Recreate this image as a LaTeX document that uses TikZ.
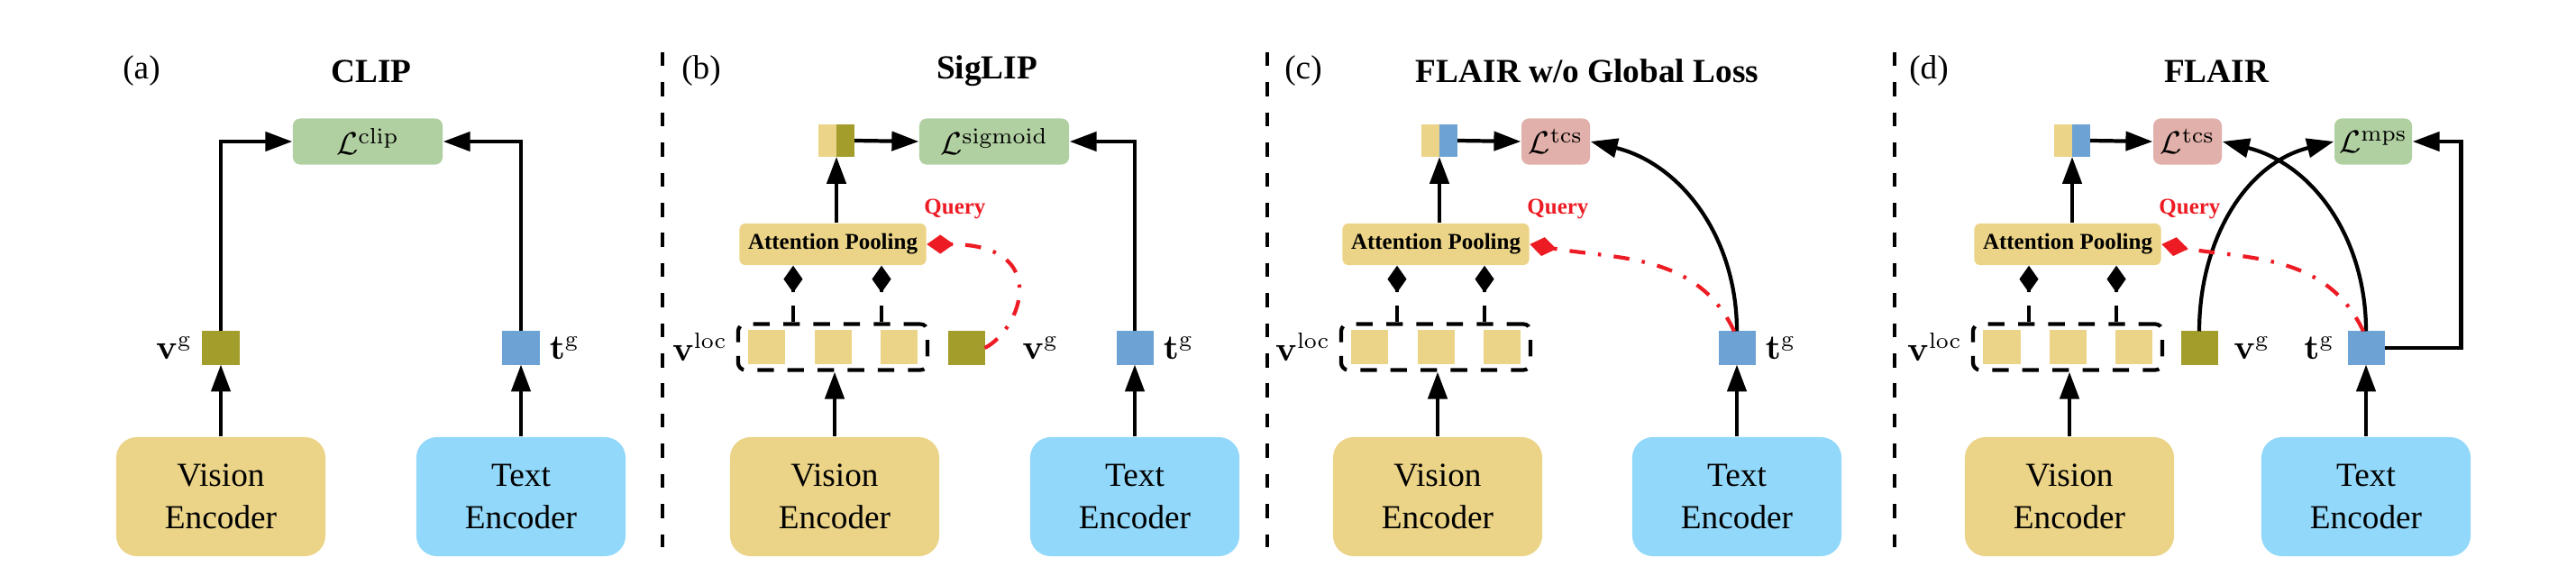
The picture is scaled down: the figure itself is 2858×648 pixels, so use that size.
\documentclass[tikz,border=0pt]{standalone}
\usepackage[no-math]{fontspec}
\setmainfont{Liberation Serif}
\usepackage{amsmath,amssymb}
\usepackage{xcolor}
\usepackage{tikz}
\usetikzlibrary{arrows.meta,positioning}

\definecolor{visyellow}{RGB}{235,212,135}
\definecolor{volive}{RGB}{163,157,43}
\definecolor{tblue}{RGB}{108,163,212}
\definecolor{txtblue}{RGB}{146,216,250}
\definecolor{lossgreen}{RGB}{176,208,161}
\definecolor{losspink}{RGB}{225,176,170}
\definecolor{qred}{RGB}{237,28,36}

\begin{document}
\begin{tikzpicture}[x=0.01cm, y=0.01cm,
  enc/.style={rectangle, rounded corners=6.5pt, minimum width=2.32cm, minimum height=1.32cm,
    align=center, inner sep=0pt, font=\fontsize{10.6}{13.4}\selectfont},
  loss/.style={rectangle, rounded corners=2.3pt, minimum height=0.51cm, inner sep=0pt,
    font=\fontsize{10}{12}\selectfont},
  pool/.style={rectangle, fill=visyellow, rounded corners=1.8pt, minimum width=2.07cm,
    minimum height=0.46cm, inner sep=0pt, font=\fontsize{7.1}{8.5}\selectfont\bfseries},
  feat/.style={rectangle, minimum width=0.41cm, minimum height=0.37cm, inner sep=0pt, outer sep=0pt},
  halfsq/.style={rectangle, minimum width=0.2cm, minimum height=0.36cm, inner sep=0pt, outer sep=0pt},
  grp/.style={rectangle, draw, line width=1.2pt, dash pattern=on 5.2pt off 4.3pt,
    rounded corners=2.3pt, minimum width=2.1cm, minimum height=0.51cm},
  lbl/.style={inner sep=0pt, font=\fontsize{10.6}{12}\selectfont},
  ttl/.style={font=\fontsize{10.6}{12}\selectfont\bfseries},
  plabel/.style={font=\fontsize{10.6}{12}\selectfont},
  qlbl/.style={text=qred, inner sep=0pt, font=\fontsize{7.1}{8.5}\selectfont\bfseries},
  arr/.style={-{Triangle[length=8.5pt, width=6pt]}, line width=1.2pt},
  link/.style={-{Diamond[length=8.5pt, width=6pt]}, line width=1.2pt, dash pattern=on 5.2pt off 4.3pt},
  qry/.style={-{Diamond[length=8.5pt, width=6pt]}, line width=1.2pt, color=qred,
    dash pattern=on 5pt off 4pt on 1pt off 4pt},
  divider/.style={line width=1.3pt, dash pattern=on 4.4pt off 5.1pt},
]
  \useasboundingbox (0,0) rectangle (2858,648);

  % panel dividers
  \draw[divider] (735,590) -- (735,41);
  \draw[divider] (1406,590) -- (1406,41);
  \draw[divider] (2102,590) -- (2102,41);

  % (a) CLIP
  \node[plabel] (taga) at (157,569) {(a)};
  \node[ttl] (ttla) at (412,569) {CLIP};
  \node[loss, fill=lossgreen, minimum width=1.66cm] (lclip) at (408,491) {$\mathcal{L}^{\mathrm{clip}}$};
  \node[enc, fill=visyellow] (vea) at (245,97) {Vision\\Encoder};
  \node[enc, fill=txtblue] (tea) at (578,97) {Text\\Encoder};
  \node[feat, fill=volive] (vga) at (245,262) {};
  \node[feat, fill=tblue] (tga) at (578,262) {};
  \node[lbl, left=3pt of vga] {$\mathbf{v}^{\mathrm{g}}$};
  \node[lbl, right=3pt of tga] {$\mathbf{t}^{\mathrm{g}}$};

  \draw[arr] (vea) -- (vga);
  \draw[arr] (tea) -- (tga);
  \draw[arr] (vga.north) |- (lclip.west);
  \draw[arr] (tga.north) |- (lclip.east);

  % (b) SigLIP
  \node[plabel] (tagb) at (778,569) {(b)};
  \node[ttl] (ttlb) at (1095,569) {SigLIP};
  \node[enc, fill=visyellow] (veb) at (926,97) {Vision\\Encoder};
  \node[enc, fill=txtblue] (teb) at (1259,97) {Text\\Encoder};
  \node[grp] (grpb) at (924,263) {};
  \node[feat, fill=visyellow] (lb2) at (grpb) {};
  \node[feat, fill=visyellow, left=0.32cm of lb2] (lb1) {};
  \node[feat, fill=visyellow, right=0.32cm of lb2] (lb3) {};
  \node[lbl, left=2.6pt of grpb] {$\mathbf{v}^{\mathrm{loc}}$};
  \node[pool] (apb) at (924,377) {Attention Pooling};
  \node[qlbl, above right=1pt and -1pt of apb.north east] {Query};
  \node[halfsq, fill=visyellow] (cb1) at (918,492) {};
  \node[halfsq, fill=volive, right=0pt of cb1] (cb2) {};
  \node[loss, fill=lossgreen, minimum width=1.66cm] (lsig) at (1103,491) {$\mathcal{L}^{\mathrm{sigmoid}}$};
  \node[feat, fill=volive] (vgb) at (1072,262) {};
  \node[lbl, right=0.41cm of vgb] {$\mathbf{v}^{\mathrm{g}}$};
  \node[feat, fill=tblue] (tgb) at (1259,262) {};
  \node[lbl, right=3pt of tgb] {$\mathbf{t}^{\mathrm{g}}$};

  \draw[arr] (veb.north) -- (veb.north |- grpb.south);
  \draw[link] ([xshift=-0.44cm]grpb.north) -- ([xshift=-0.44cm]grpb.north |- apb.south);
  \draw[link] ([xshift=0.54cm]grpb.north) -- ([xshift=0.54cm]grpb.north |- apb.south);
  \draw[arr] (cb1.south east |- apb.north) -- (cb1.south east);
  \draw[arr] (cb2.east) -- (lsig.west);
  \draw[arr] (teb) -- (tgb);
  \draw[arr] (tgb.north) |- (lsig.east);
  \draw[qry] (vgb.east) .. controls +(40,20) and +(140,0) .. (apb.east);

  % (c) FLAIR w/o Global Loss
  \node[plabel] (tagc) at (1446,569) {(c)};
  \node[ttl] (ttlc) at (1761,569) {FLAIR w/o Global Loss};
  \node[enc, fill=visyellow] (vec) at (1595,97) {Vision\\Encoder};
  \node[enc, fill=txtblue] (tec) at (1927,97) {Text\\Encoder};
  \node[grp] (grpc) at (1593,263) {};
  \node[feat, fill=visyellow] (lc2) at (grpc) {};
  \node[feat, fill=visyellow, left=0.32cm of lc2] (lc1) {};
  \node[feat, fill=visyellow, right=0.32cm of lc2] (lc3) {};
  \node[lbl, left=2.6pt of grpc] {$\mathbf{v}^{\mathrm{loc}}$};
  \node[pool] (apc) at (1593,377) {Attention Pooling};
  \node[qlbl, above right=1pt and -1pt of apc.north east] {Query};
  \node[halfsq, fill=visyellow] (cc1) at (1587,492) {};
  \node[halfsq, fill=tblue, right=0pt of cc1] (cc2) {};
  \node[loss, fill=losspink, minimum width=0.76cm] (ltcsc) at (1726,491) {$\mathcal{L}^{\mathrm{tcs}}$};
  \node[feat, fill=tblue] (tgc) at (1927,262) {};
  \node[lbl, right=3pt of tgc] {$\mathbf{t}^{\mathrm{g}}$};

  \draw[arr] (vec.north) -- (vec.north |- grpc.south);
  \draw[link] ([xshift=-0.43cm]grpc.north) -- ([xshift=-0.43cm]grpc.north |- apc.south);
  \draw[link] ([xshift=0.54cm]grpc.north) -- ([xshift=0.54cm]grpc.north |- apc.south);
  \draw[arr] (cc1.south east |- apc.north) -- (cc1.south east);
  \draw[arr] (cc2.east) -- (ltcsc.west);
  \draw[arr] (tec) -- (tgc);
  \draw[arr] (tgc.north) to[out=90, in=-14] (ltcsc.east);
  \draw[qry] ([xshift=-0.03cm]tgc.north) to[out=115, in=-10] (apc.east);

  % (d) FLAIR
  \node[plabel] (tagd) at (2140,569) {(d)};
  \node[ttl] (ttld) at (2459,569) {FLAIR};
  \node[enc, fill=visyellow] (ved) at (2296,97) {Vision\\Encoder};
  \node[enc, fill=txtblue] (ted) at (2625,97) {Text\\Encoder};
  \node[grp] (grpd) at (2294,263) {};
  \node[feat, fill=visyellow] (ld2) at (grpd) {};
  \node[feat, fill=visyellow, left=0.32cm of ld2] (ld1) {};
  \node[feat, fill=visyellow, right=0.32cm of ld2] (ld3) {};
  \node[lbl, left=2.6pt of grpd] {$\mathbf{v}^{\mathrm{loc}}$};
  \node[pool] (apd) at (2294,377) {Attention Pooling};
  \node[qlbl, above right=1pt and -1pt of apd.north east] {Query};
  \node[halfsq, fill=visyellow] (cd1) at (2289,492) {};
  \node[halfsq, fill=tblue, right=0pt of cd1] (cd2) {};
  \node[loss, fill=losspink, minimum width=0.76cm] (ltcsd) at (2427,491) {$\mathcal{L}^{\mathrm{tcs}}$};
  \node[loss, fill=lossgreen, minimum width=0.86cm] (lmps) at (2633,491) {$\mathcal{L}^{\mathrm{mps}}$};
  \node[feat, fill=volive] (vgd) at (2440,262) {};
  \node[lbl, right=0.17cm of vgd] {$\mathbf{v}^{\mathrm{g}}$};
  \node[feat, fill=tblue] (tgd) at (2625,262) {};
  \node[lbl, left=4pt of tgd] {$\mathbf{t}^{\mathrm{g}}$};

  \draw[arr] (ved.north) -- (ved.north |- grpd.south);
  \draw[link] ([xshift=-0.43cm]grpd.north) -- ([xshift=-0.43cm]grpd.north |- apd.south);
  \draw[link] ([xshift=0.54cm]grpd.north) -- ([xshift=0.54cm]grpd.north |- apd.south);
  \draw[arr] (cd1.south east |- apd.north) -- (cd1.south east);
  \draw[arr] (cd2.east) -- (ltcsd.west);
  \draw[arr] (ted) -- (tgd);
  \draw[arr] (vgd.north) to[out=90, in=194] (lmps.west);
  \draw[arr] (tgd.north) to[out=90, in=-14] (ltcsd.east);
  \draw[arr] (tgd.east) -- ++(85,0) |- (lmps.east);
  \draw[qry] ([xshift=-0.03cm]tgd.north) to[out=115, in=-10] (apd.east);
\end{tikzpicture}
\end{document}
